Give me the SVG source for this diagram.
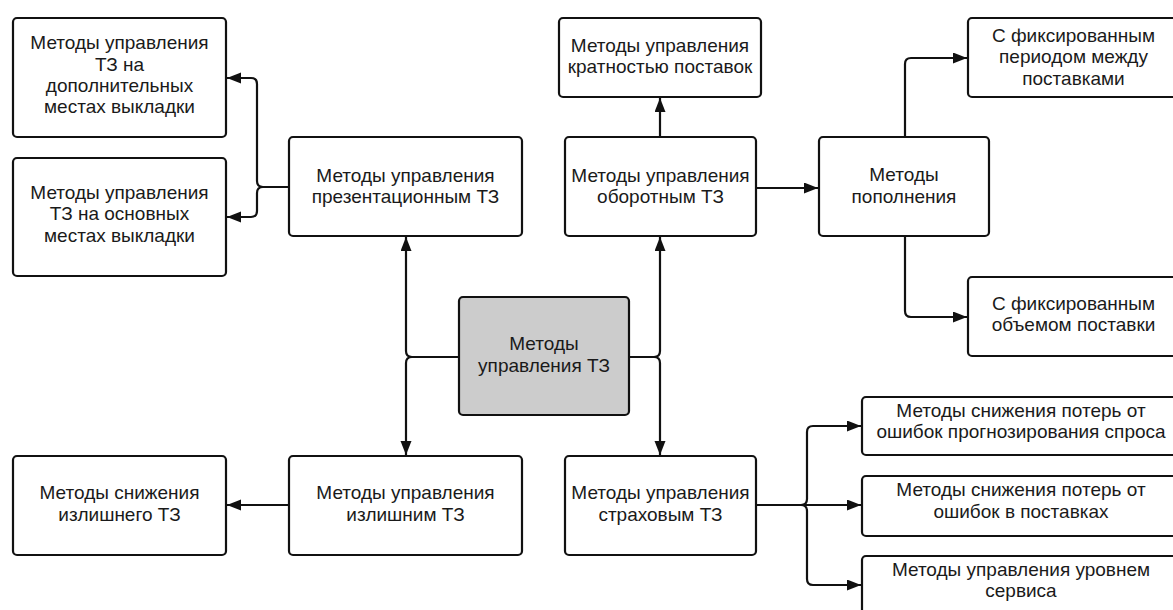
<svg xmlns="http://www.w3.org/2000/svg" width="1173" height="610" viewBox="0 0 1173 610">
<style>
.box{fill:#ffffff;stroke:#111111;stroke-width:2.2}
.core{fill:#cccccc;stroke:#111111;stroke-width:2.2}
.lbl{font-family:"Liberation Sans",Arial,sans-serif;font-size:19px;fill:#1a1a1a;text-anchor:middle}
.edge{fill:none;stroke:#111111;stroke-width:2.2;marker-end:url(#arr)}
</style>
<defs>
<marker id="arr" markerUnits="userSpaceOnUse" markerWidth="15" markerHeight="12" refX="14" refY="5.5" orient="auto">
<path d="M0,0 L14,5.5 L0,11 z" fill="#111111"/>
</marker>
</defs>
<rect width="1173" height="610" fill="#ffffff"/>
<g id="connectors">
<path class="edge" d="M289,187 H263 Q257,187 257,181 V84 Q257,78 251,78 H227"/>
<path class="edge" d="M289,187 H263 Q257,187 257,193 V211 Q257,217 251,217 H227"/>
<path class="edge" d="M459,357 H412 Q406,357 406,351 V237"/>
<path class="edge" d="M459,357 H412 Q406,357 406,363 V455"/>
<path class="edge" d="M629,357 H654 Q660,357 660,351 V237"/>
<path class="edge" d="M629,357 H654 Q660,357 660,363 V455"/>
<path class="edge" d="M660,137 V98"/>
<path class="edge" d="M756,188 H818"/>
<path class="edge" d="M905,137 V64 Q905,58 911,58 H967"/>
<path class="edge" d="M905,236 V311 Q905,317 911,317 H967"/>
<path class="edge" d="M289,505 H227"/>
<path class="edge" d="M756,505 H801 Q807,505 807,499 V432 Q807,426 813,426 H861"/>
<path class="edge" d="M756,505 H861"/>
<path class="edge" d="M756,505 H801 Q807,505 807,511 V579 Q807,585 813,585 H861"/>
</g>
<g id="node-dop">
<rect class="box" x="13" y="18" width="213" height="119" rx="4"/>
<text class="lbl" x="119.5" y="49">Методы управления</text>
<text class="lbl" x="119.5" y="70.5">ТЗ на</text>
<text class="lbl" x="119.5" y="91.5">дополнительных</text>
<text class="lbl" x="119.5" y="113">местах выкладки</text>
</g>
<g id="node-osn">
<rect class="box" x="13" y="158" width="213" height="118" rx="4"/>
<text class="lbl" x="119.5" y="198.5">Методы управления</text>
<text class="lbl" x="119.5" y="220">ТЗ на основных</text>
<text class="lbl" x="119.5" y="241.5">местах выкладки</text>
</g>
<g id="node-prez">
<rect class="box" x="289" y="137" width="233" height="99" rx="4"/>
<text class="lbl" x="405.5" y="181.5">Методы управления</text>
<text class="lbl" x="405.5" y="203">презентационным ТЗ</text>
</g>
<g id="node-krat">
<rect class="box" x="559" y="18" width="202" height="79" rx="4"/>
<text class="lbl" x="660" y="51.5">Методы управления</text>
<text class="lbl" x="660" y="72.5">кратностью поставок</text>
</g>
<g id="node-obor">
<rect class="box" x="565" y="137" width="191" height="99" rx="4"/>
<text class="lbl" x="660.5" y="181.5">Методы управления</text>
<text class="lbl" x="660.5" y="203">оборотным ТЗ</text>
</g>
<g id="node-popol">
<rect class="box" x="819" y="137" width="170" height="99" rx="4"/>
<text class="lbl" x="904" y="180.5">Методы</text>
<text class="lbl" x="904" y="203">пополнения</text>
</g>
<g id="node-period">
<rect class="box" x="968" y="18" width="212" height="79" rx="4"/>
<text class="lbl" x="1073.5" y="41.5">С фиксированным</text>
<text class="lbl" x="1073.5" y="63">периодом между</text>
<text class="lbl" x="1073.5" y="84.5">поставками</text>
</g>
<g id="node-obem">
<rect class="box" x="968" y="277" width="212" height="79" rx="4"/>
<text class="lbl" x="1073.5" y="309.5">С фиксированным</text>
<text class="lbl" x="1073.5" y="331">объемом поставки</text>
</g>
<g id="node-main">
<rect class="core" x="459" y="297" width="170" height="118" rx="4"/>
<text class="lbl" x="544" y="350">Методы</text>
<text class="lbl" x="544" y="371.5">управления ТЗ</text>
</g>
<g id="node-izl">
<rect class="box" x="289" y="456" width="233" height="99" rx="4"/>
<text class="lbl" x="405.5" y="499">Методы управления</text>
<text class="lbl" x="405.5" y="520.5">излишним ТЗ</text>
</g>
<g id="node-sniz">
<rect class="box" x="13" y="456" width="213" height="99" rx="4"/>
<text class="lbl" x="119.5" y="499">Методы снижения</text>
<text class="lbl" x="119.5" y="520.5">излишнего ТЗ</text>
</g>
<g id="node-strah">
<rect class="box" x="565" y="456" width="191" height="99" rx="4"/>
<text class="lbl" x="660.5" y="499">Методы управления</text>
<text class="lbl" x="660.5" y="520.5">страховым ТЗ</text>
</g>
<g id="node-prog">
<rect class="box" x="862" y="397" width="318" height="58" rx="4"/>
<text class="lbl" x="1021" y="416.5">Методы снижения потерь от</text>
<text class="lbl" x="1021" y="438">ошибок прогнозирования спроса</text>
</g>
<g id="node-post">
<rect class="box" x="862" y="476" width="318" height="60" rx="4"/>
<text class="lbl" x="1021" y="496">Методы снижения потерь от</text>
<text class="lbl" x="1021" y="517.5">ошибок в поставках</text>
</g>
<g id="node-serv">
<rect class="box" x="862" y="556" width="318" height="60" rx="4"/>
<text class="lbl" x="1021" y="575.5">Методы управления уровнем</text>
<text class="lbl" x="1021" y="597">сервиса</text>
</g>
</svg>
